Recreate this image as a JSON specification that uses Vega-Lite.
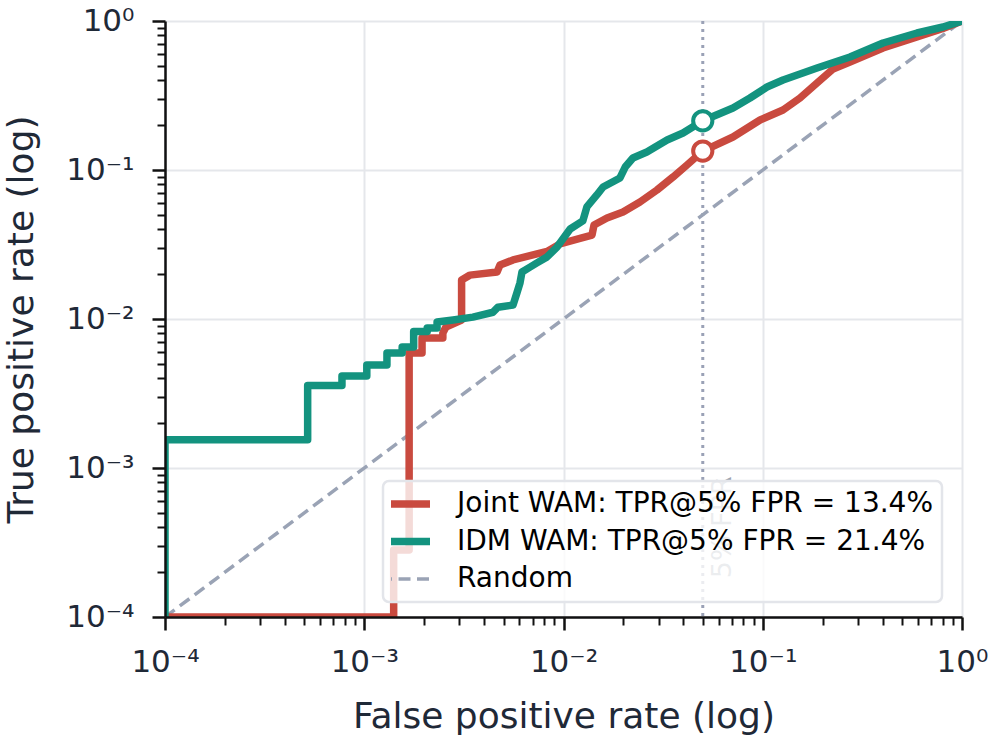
{
  "$schema": "https://vega.github.io/schema/vega-lite/v6.json",
  "width": 797,
  "height": 596,
  "autosize": {"type": "none"},
  "padding": {"left": 165, "top": 21, "right": 31, "bottom": 124},
  "background": "white",
  "config": {
    "view": {"stroke": null},
    "font": "DejaVu Sans",
    "legend": {
      "orient": "none",
      "legendX": 218,
      "legendY": 460,
      "title": null,
      "symbolType": "stroke",
      "symbolSize": 2500,
      "clipHeight": 30,
      "rowPadding": 7.5,
      "labelOffset": 38,
      "labelFont": "DejaVu Sans",
      "labelFontSize": 28,
      "labelColor": "#000000",
      "labelLimit": 700,
      "padding": 8,
      "fillColor": "rgba(255,255,255,0.8)",
      "strokeColor": "#e3e5ea",
      "strokeWidth": 2.5,
      "cornerRadius": 6,
      "zindex": 2
    }
  },
  "datasets": {
    "curves": [
      {"m": "random", "i": 0, "fpr": 0.0001, "tpr": 0.0001},
      {"m": "random", "i": 1, "fpr": 1, "tpr": 1},

      {"m": "joint", "i": 0, "fpr": 0.0001, "tpr": 0.0001},
      {"m": "joint", "i": 1, "fpr": 0.001405, "tpr": 0.0001},
      {"m": "joint", "i": 2, "fpr": 0.001405, "tpr": 0.000282},
      {"m": "joint", "i": 3, "fpr": 0.00168, "tpr": 0.000282},
      {"m": "joint", "i": 4, "fpr": 0.00168, "tpr": 0.00591},
      {"m": "joint", "i": 5, "fpr": 0.00195, "tpr": 0.00591},
      {"m": "joint", "i": 6, "fpr": 0.00195, "tpr": 0.00746},
      {"m": "joint", "i": 7, "fpr": 0.00248, "tpr": 0.00746},
      {"m": "joint", "i": 8, "fpr": 0.00248, "tpr": 0.00805},
      {"m": "joint", "i": 9, "fpr": 0.00257, "tpr": 0.00884},
      {"m": "joint", "i": 10, "fpr": 0.00308, "tpr": 0.00985},
      {"m": "joint", "i": 11, "fpr": 0.00308, "tpr": 0.0183},
      {"m": "joint", "i": 12, "fpr": 0.00339, "tpr": 0.0197},
      {"m": "joint", "i": 13, "fpr": 0.00464, "tpr": 0.0207},
      {"m": "joint", "i": 14, "fpr": 0.0048, "tpr": 0.023},
      {"m": "joint", "i": 15, "fpr": 0.00558, "tpr": 0.0249},
      {"m": "joint", "i": 16, "fpr": 0.00703, "tpr": 0.0269},
      {"m": "joint", "i": 17, "fpr": 0.00827, "tpr": 0.0284},
      {"m": "joint", "i": 18, "fpr": 0.0096, "tpr": 0.0319},
      {"m": "joint", "i": 19, "fpr": 0.0121, "tpr": 0.0347},
      {"m": "joint", "i": 20, "fpr": 0.0139, "tpr": 0.0366},
      {"m": "joint", "i": 21, "fpr": 0.01423, "tpr": 0.0427},
      {"m": "joint", "i": 22, "fpr": 0.01653, "tpr": 0.0476},
      {"m": "joint", "i": 23, "fpr": 0.01989, "tpr": 0.0522},
      {"m": "joint", "i": 24, "fpr": 0.0242, "tpr": 0.061},
      {"m": "joint", "i": 25, "fpr": 0.02946, "tpr": 0.0734},
      {"m": "joint", "i": 26, "fpr": 0.03544, "tpr": 0.0897},
      {"m": "joint", "i": 27, "fpr": 0.04167, "tpr": 0.108},
      {"m": "joint", "i": 28, "fpr": 0.05, "tpr": 0.134},
      {"m": "joint", "i": 29, "fpr": 0.0709, "tpr": 0.1665},
      {"m": "joint", "i": 30, "fpr": 0.0969, "tpr": 0.2166},
      {"m": "joint", "i": 31, "fpr": 0.1264, "tpr": 0.2527},
      {"m": "joint", "i": 32, "fpr": 0.1538, "tpr": 0.3042},
      {"m": "joint", "i": 33, "fpr": 0.1872, "tpr": 0.3836},
      {"m": "joint", "i": 34, "fpr": 0.2253, "tpr": 0.4764},
      {"m": "joint", "i": 35, "fpr": 0.2741, "tpr": 0.5307},
      {"m": "joint", "i": 36, "fpr": 0.4014, "tpr": 0.6589},
      {"m": "joint", "i": 37, "fpr": 0.5944, "tpr": 0.7809},
      {"m": "joint", "i": 38, "fpr": 0.8027, "tpr": 0.8906},
      {"m": "joint", "i": 39, "fpr": 1, "tpr": 1},

      {"m": "idm", "i": 0, "fpr": 0.0001, "tpr": 0.0001},
      {"m": "idm", "i": 1, "fpr": 0.0001, "tpr": 0.00155},
      {"m": "idm", "i": 2, "fpr": 0.00052, "tpr": 0.00155},
      {"m": "idm", "i": 3, "fpr": 0.00052, "tpr": 0.00358},
      {"m": "idm", "i": 4, "fpr": 0.000773, "tpr": 0.00358},
      {"m": "idm", "i": 5, "fpr": 0.000773, "tpr": 0.00414},
      {"m": "idm", "i": 6, "fpr": 0.00103, "tpr": 0.00414},
      {"m": "idm", "i": 7, "fpr": 0.00103, "tpr": 0.00491},
      {"m": "idm", "i": 8, "fpr": 0.0013, "tpr": 0.00491},
      {"m": "idm", "i": 9, "fpr": 0.0013, "tpr": 0.00591},
      {"m": "idm", "i": 10, "fpr": 0.00155, "tpr": 0.00591},
      {"m": "idm", "i": 11, "fpr": 0.00155, "tpr": 0.00649},
      {"m": "idm", "i": 12, "fpr": 0.00177, "tpr": 0.00649},
      {"m": "idm", "i": 13, "fpr": 0.00177, "tpr": 0.00825},
      {"m": "idm", "i": 14, "fpr": 0.00207, "tpr": 0.00825},
      {"m": "idm", "i": 15, "fpr": 0.00207, "tpr": 0.0087},
      {"m": "idm", "i": 16, "fpr": 0.00232, "tpr": 0.0087},
      {"m": "idm", "i": 17, "fpr": 0.00232, "tpr": 0.00955},
      {"m": "idm", "i": 18, "fpr": 0.00279, "tpr": 0.00985},
      {"m": "idm", "i": 19, "fpr": 0.00351, "tpr": 0.0103},
      {"m": "idm", "i": 20, "fpr": 0.00443, "tpr": 0.0111},
      {"m": "idm", "i": 21, "fpr": 0.00469, "tpr": 0.012},
      {"m": "idm", "i": 22, "fpr": 0.00558, "tpr": 0.0124},
      {"m": "idm", "i": 23, "fpr": 0.00584, "tpr": 0.015},
      {"m": "idm", "i": 24, "fpr": 0.00605, "tpr": 0.0175},
      {"m": "idm", "i": 25, "fpr": 0.00619, "tpr": 0.0207},
      {"m": "idm", "i": 26, "fpr": 0.00679, "tpr": 0.0223},
      {"m": "idm", "i": 27, "fpr": 0.00736, "tpr": 0.0238},
      {"m": "idm", "i": 28, "fpr": 0.00827, "tpr": 0.0261},
      {"m": "idm", "i": 29, "fpr": 0.00928, "tpr": 0.0304},
      {"m": "idm", "i": 30, "fpr": 0.0108, "tpr": 0.0402},
      {"m": "idm", "i": 31, "fpr": 0.0125, "tpr": 0.0455},
      {"m": "idm", "i": 32, "fpr": 0.0131, "tpr": 0.0565},
      {"m": "idm", "i": 33, "fpr": 0.0147, "tpr": 0.068},
      {"m": "idm", "i": 34, "fpr": 0.0158, "tpr": 0.0769},
      {"m": "idm", "i": 35, "fpr": 0.0192, "tpr": 0.0884},
      {"m": "idm", "i": 36, "fpr": 0.0204, "tpr": 0.1047},
      {"m": "idm", "i": 37, "fpr": 0.0223, "tpr": 0.1204},
      {"m": "idm", "i": 38, "fpr": 0.0262, "tpr": 0.1321},
      {"m": "idm", "i": 39, "fpr": 0.0331, "tpr": 0.159},
      {"m": "idm", "i": 40, "fpr": 0.0398, "tpr": 0.1771},
      {"m": "idm", "i": 41, "fpr": 0.05, "tpr": 0.214},
      {"m": "idm", "i": 42, "fpr": 0.0709, "tpr": 0.2607},
      {"m": "idm", "i": 43, "fpr": 0.0863, "tpr": 0.3042},
      {"m": "idm", "i": 44, "fpr": 0.105, "tpr": 0.3606},
      {"m": "idm", "i": 45, "fpr": 0.1264, "tpr": 0.4018},
      {"m": "idm", "i": 46, "fpr": 0.1872, "tpr": 0.4838},
      {"m": "idm", "i": 47, "fpr": 0.2741, "tpr": 0.5733},
      {"m": "idm", "i": 48, "fpr": 0.4014, "tpr": 0.7116},
      {"m": "idm", "i": 49, "fpr": 0.5944, "tpr": 0.8308},
      {"m": "idm", "i": 50, "fpr": 0.8027, "tpr": 0.9116},
      {"m": "idm", "i": 51, "fpr": 1, "tpr": 1}
    ],
    "operating": [
      {"m": "joint", "fpr": 0.05, "tpr": 0.134},
      {"m": "idm", "fpr": 0.05, "tpr": 0.214}
    ],
    "threshold": [
      {"fpr": 0.05, "label": "5% FPR"}
    ]
  },
  "resolve": {"axis": {"x": "independent", "y": "independent"}},
  "layer": [
    {
      "data": {"name": "threshold"},
      "mark": {"type": "rule", "color": "#9aa1b6", "strokeWidth": 3, "strokeDash": [3, 5]},
      "encoding": {
        "x": {"field": "fpr", "type": "quantitative", "scale": {"type": "log", "domain": [0.0001, 1], "nice": false}, "axis": null}
      }
    },
    {
      "data": {"name": "threshold"},
      "mark": {"type": "text", "angle": 270, "align": "center", "baseline": "middle", "dy": 20, "fontSize": 27, "font": "DejaVu Sans", "color": "#9ca3af"},
      "encoding": {
        "x": {
          "field": "fpr", "type": "quantitative",
          "scale": {"type": "log", "domain": [0.0001, 1], "nice": false},
          "axis": {
            "orient": "bottom", "values": [0.0001, 0.001, 0.01, 0.1, 1],
            "grid": true, "gridColor": "#e5e7eb", "gridWidth": 2,
            "labels": false, "ticks": false, "domain": false, "title": null, "zindex": 0
          }
        },
        "y": {
          "datum": 0.0004, "type": "quantitative",
          "scale": {"type": "log", "domain": [0.0001, 1], "nice": false},
          "axis": {
            "orient": "left", "values": [0.0001, 0.001, 0.01, 0.1, 1],
            "grid": true, "gridColor": "#e5e7eb", "gridWidth": 2,
            "labels": false, "ticks": false, "domain": false, "title": null, "zindex": 0
          }
        },
        "text": {"field": "label"}
      }
    },
    {
      "data": {"name": "curves"},
      "transform": [{"filter": "datum.m == 'random'"}],
      "mark": {"type": "line", "clip": true, "strokeCap": "butt", "strokeWidth": 3.5, "strokeDash": [12, 6.5]},
      "encoding": {
        "x": {
          "field": "fpr", "type": "quantitative",
          "scale": {"type": "log", "domain": [0.0001, 1], "nice": false},
          "axis": {
            "orient": "bottom",
            "values": [0.0001, 0.001, 0.01, 0.1, 1],
            "labelExpr": "datum.value >= 1 ? '10⁰' : datum.value >= 0.1 ? '10⁻¹' : datum.value >= 0.01 ? '10⁻²' : datum.value >= 0.001 ? '10⁻³' : '10⁻⁴'",
            "labelFont": "DejaVu Sans", "labelFontSize": 31, "labelColor": "#1f2937",
            "labelPadding": 17, "labelFlush": false, "labelOverlap": false,
            "grid": false,
            "domainColor": "#111111", "domainWidth": 2.5,
            "tickColor": "#111111", "tickWidth": 2.5, "tickSize": 13,
            "title": "False positive rate (log)",
            "titleFont": "DejaVu Sans", "titleFontSize": 36, "titleFontWeight": "normal", "titleColor": "#1f2937",
            "titlePadding": 22,
            "zindex": 1
          }
        },
        "y": {
          "field": "tpr", "type": "quantitative",
          "scale": {"type": "log", "domain": [0.0001, 1], "nice": false},
          "axis": {
            "orient": "left",
            "values": [0.0001, 0.001, 0.01, 0.1, 1],
            "labelExpr": "datum.value >= 1 ? '10⁰' : datum.value >= 0.1 ? '10⁻¹' : datum.value >= 0.01 ? '10⁻²' : datum.value >= 0.001 ? '10⁻³' : '10⁻⁴'",
            "labelFont": "DejaVu Sans", "labelFontSize": 31, "labelColor": "#1f2937",
            "labelPadding": 18, "labelFlush": false, "labelOverlap": false,
            "grid": false,
            "domainColor": "#111111", "domainWidth": 2.5,
            "tickColor": "#111111", "tickWidth": 2.5, "tickSize": 13,
            "title": "True positive rate (log)",
            "titleFont": "DejaVu Sans", "titleFontSize": 36, "titleFontWeight": "normal", "titleColor": "#1f2937",
            "titlePadding": 25,
            "zindex": 1
          }
        },
        "order": {"field": "i", "type": "quantitative"},
        "color": {
          "field": "m", "type": "nominal",
          "scale": {"domain": ["joint", "idm", "random"], "range": ["#c94a3f", "#13937f", "#9aa3b5"]},
          "legend": {
            "labelExpr": "datum.label == 'joint' ? 'Joint WAM: TPR@5% FPR = 13.4%' : datum.label == 'idm' ? 'IDM WAM: TPR@5% FPR = 21.4%' : 'Random'",
            "encode": {
              "symbols": {
                "update": {
                  "strokeWidth": {"signal": "datum.value == 'random' ? 3.5 : 7.5"},
                  "strokeDash": {"signal": "datum.value == 'random' ? [12, 6.5] : [1, 0]"}
                }
              }
            }
          }
        }
      }
    },
    {
      "data": {"name": "curves"},
      "transform": [{"filter": "datum.m == 'joint'"}],
      "mark": {"type": "line", "clip": true, "strokeJoin": "round", "strokeCap": "round", "strokeWidth": 7.5},
      "encoding": {
        "x": {"field": "fpr", "type": "quantitative", "scale": {"type": "log", "domain": [0.0001, 1], "nice": false}, "axis": null},
        "y": {"field": "tpr", "type": "quantitative", "scale": {"type": "log", "domain": [0.0001, 1], "nice": false}, "axis": null},
        "order": {"field": "i", "type": "quantitative"},
        "color": {"field": "m", "type": "nominal"}
      }
    },
    {
      "data": {"name": "curves"},
      "transform": [{"filter": "datum.m == 'idm'"}],
      "mark": {"type": "line", "clip": true, "strokeJoin": "round", "strokeCap": "round", "strokeWidth": 7.5},
      "encoding": {
        "x": {"field": "fpr", "type": "quantitative", "scale": {"type": "log", "domain": [0.0001, 1], "nice": false}, "axis": null},
        "y": {"field": "tpr", "type": "quantitative", "scale": {"type": "log", "domain": [0.0001, 1], "nice": false}, "axis": null},
        "order": {"field": "i", "type": "quantitative"},
        "color": {"field": "m", "type": "nominal"}
      }
    },
    {
      "data": {"name": "operating"},
      "mark": {"type": "point", "shape": "circle", "size": 370, "filled": true, "fill": "white", "fillOpacity": 1, "opacity": 1, "strokeWidth": 4},
      "encoding": {
        "x": {
          "field": "fpr", "type": "quantitative",
          "scale": {"type": "log", "domain": [0.0001, 1], "nice": false},
          "axis": {
            "orient": "bottom",
            "values": [0.0002, 0.0003, 0.0004, 0.0005, 0.0006, 0.0007, 0.0008, 0.0009, 0.002, 0.003, 0.004, 0.005, 0.006, 0.007, 0.008, 0.009, 0.02, 0.03, 0.04, 0.05, 0.06, 0.07, 0.08, 0.09, 0.2, 0.3, 0.4, 0.5, 0.6, 0.7, 0.8, 0.9],
            "labels": false, "domain": false, "grid": false,
            "tickColor": "#111111", "tickWidth": 2, "tickSize": 8,
            "title": null, "zindex": 1
          }
        },
        "y": {
          "field": "tpr", "type": "quantitative",
          "scale": {"type": "log", "domain": [0.0001, 1], "nice": false},
          "axis": {
            "orient": "left",
            "values": [0.0002, 0.0003, 0.0004, 0.0005, 0.0006, 0.0007, 0.0008, 0.0009, 0.002, 0.003, 0.004, 0.005, 0.006, 0.007, 0.008, 0.009, 0.02, 0.03, 0.04, 0.05, 0.06, 0.07, 0.08, 0.09, 0.2, 0.3, 0.4, 0.5, 0.6, 0.7, 0.8, 0.9],
            "labels": false, "domain": false, "grid": false,
            "tickColor": "#111111", "tickWidth": 2, "tickSize": 8,
            "title": null, "zindex": 1
          }
        },
        "stroke": {"field": "m", "type": "nominal", "scale": {"domain": ["joint", "idm"], "range": ["#c94a3f", "#13937f"]}, "legend": null}
      }
    }
  ]
}
